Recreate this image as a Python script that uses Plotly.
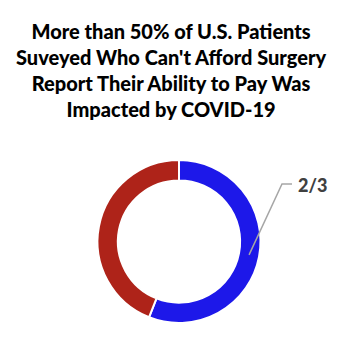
import math
import plotly.graph_objects as go

labels = ["Impacted", "Not impacted"]
values = [56, 44]
colors = ["#1D18E9", "#AE2319"]
slice_label = "2/3"
title_lines = ["More than 50% of U.S. Patients",
               "Suveyed Who Can't Afford Surgery",
               "Report Their Ability to Pay Was",
               "Impacted by COVID-19"]

W = H = 360
OFF = 8  # page body margin offset
cx, cy, R = 179 - OFF, 241.5 - OFF, 81.5  # pixel geometry of the donut
hole = 0.75

fig = go.Figure(go.Pie(
    labels=labels, values=values, hole=hole, sort=False,
    direction="clockwise", rotation=0,
    marker=dict(colors=colors, line=dict(color="white", width=2)),
    textinfo="none", hoverinfo="label+value", showlegend=False,
    domain=dict(x=[(cx - R) / W, (cx + R) / W],
                y=[(H - cy - R) / H, (H - cy + R) / H]),
))

# leader line from mid of first slice
theta = 2 * math.pi * (values[0] / 2) / sum(values)
rm = R * (1 + hole) / 2
px_ = cx + rm * math.sin(theta)
py_ = cy - rm * math.cos(theta)
ex, ey = 282 - OFF, 184 - OFF
tx = 292 - OFF
to_paper = lambda x, y: (x / W, 1 - y / H)
p1 = to_paper(px_, py_); p2 = to_paper(ex, ey); p3 = to_paper(tx, ey)
fig.add_shape(type="path", xref="paper", yref="paper",
              path=f"M {p1[0]} {p1[1]} L {p2[0]} {p2[1]} L {p3[0]} {p3[1]}",
              line=dict(color="#A6A6A6", width=1.5))
fig.add_annotation(text=slice_label, xref="paper", yref="paper",
                   x=(tx + 4) / W, y=1 - (ey + 1) / H, xanchor="left", yanchor="middle",
                   showarrow=False,
                   font=dict(family="Lato", size=18, color="#404040", weight=900))

fig.add_annotation(text="<br>".join(title_lines),
                   xref="paper", yref="paper", x=(171 - OFF) / W, y=1 - (17 - OFF) / H,
                   xanchor="center", yanchor="top", showarrow=False,
                   font=dict(family="Lato", size=20, color="#000000", weight=900))

fig.update_layout(width=W, height=H, margin=dict(l=0, r=0, t=0, b=0),
                  paper_bgcolor="white", plot_bgcolor="white")
fig.write_html("out.html")
